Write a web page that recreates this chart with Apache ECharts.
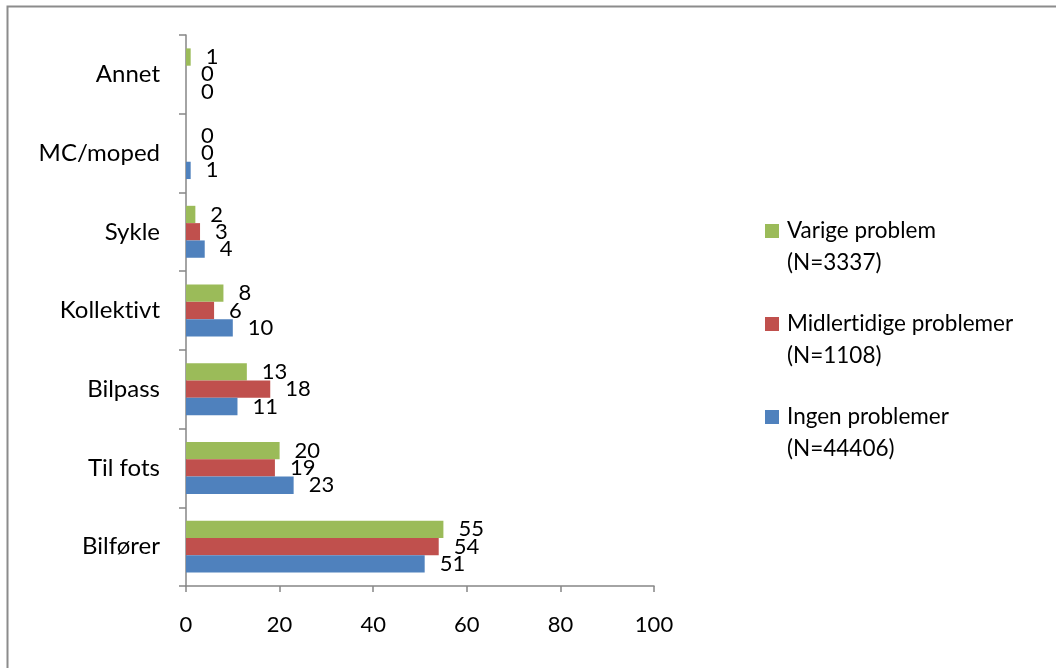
<!DOCTYPE html>
<html>
<head>
<meta charset="utf-8">
<script src="https://cdn.jsdelivr.net/npm/echarts@6/dist/echarts.min.js"></script>
<style>
  html, body { margin: 0; padding: 0; background: #ffffff; }
  #chart { width: 1056px; height: 668px; }
</style>
</head>
<body>
<div id="chart"></div>
<script>
// Travel mode shares (%) by problem group
const categories = ['Bilfører', 'Til fots', 'Bilpass', 'Kollektivt', 'Sykle', 'MC/moped', 'Annet'];
const ingenProblemer = [51, 23, 11, 10, 4, 1, 0];
const midlertidigeProblemer = [54, 19, 18, 6, 3, 0, 0];
const varigeProblem = [55, 20, 13, 8, 2, 0, 1];
const seriesNames = ['Ingen problemer\n(N=44406)', 'Midlertidige problemer\n(N=1108)', 'Varige problem\n(N=3337)'];
const seriesColors = ['#4F81BD', '#C0504D', '#9BBB59'];
const xTicks = [0, 20, 40, 60, 80, 100];

// Plain glyphs: no "ti" ligatures in canvas text
(function () {
  const proto = CanvasRenderingContext2D.prototype;
  const origFill = proto.fillText;
  proto.fillText = function () {
    try { this.textRendering = 'optimizeSpeed'; } catch (e) {}
    return origFill.apply(this, arguments);
  };
})();

const FONT = 'Lato, "Open Sans", sans-serif';

const chart = echarts.init(document.getElementById('chart'), null, { renderer: 'canvas' });

// Square icon sitting at the top of a taller box, so it lines up with the first text line
const legendIcon = 'path://M0,0L14,0L14,14L0,14ZM0,46';

function barSeries(name, values, color) {
  return {
    name: name,
    type: 'bar',
    data: values,
    barGap: '0%',
    barCategoryGap: '34%',
    itemStyle: { color: color },
    label: {
      show: true,
      position: 'right',
      distance: 15,
      color: '#000',
      fontFamily: FONT,
      fontSize: 22
    }
  };
}

chart.setOption({
  animation: false,
  backgroundColor: '#ffffff',
  graphic: [{
    type: 'rect',
    shape: { x: 7.5, y: 6.5, width: 1200, height: 800 },
    style: { fill: 'none', stroke: '#8c8c8c', lineWidth: 2 },
    silent: true
  }],
  grid: { left: 186, top: 35, right: 402, bottom: 82 },
  xAxis: {
    type: 'value',
    min: xTicks[0],
    max: xTicks[xTicks.length - 1],
    interval: xTicks[1] - xTicks[0],
    splitLine: { show: false },
    axisLine: { show: true, lineStyle: { color: '#868686', width: 1.5 } },
    axisTick: { show: true, length: 6, lineStyle: { color: '#868686', width: 1.5 } },
    axisLabel: { color: '#000', fontFamily: FONT, fontSize: 22, margin: 28 }
  },
  yAxis: {
    type: 'category',
    data: categories,
    axisLine: { show: true, lineStyle: { color: '#868686', width: 1.5 } },
    axisTick: { show: true, length: 7, lineStyle: { color: '#868686', width: 1.5 } },
    axisLabel: { color: '#000', fontFamily: FONT, fontSize: 24, margin: 26 }
  },
  legend: {
    orient: 'vertical',
    left: 765,
    top: 215,
    padding: 0,
    itemGap: 29,
    itemWidth: 14,
    itemHeight: 46,
    icon: legendIcon,
    data: [seriesNames[2], seriesNames[1], seriesNames[0]],
    textStyle: { color: '#000', fontFamily: FONT, fontSize: 22.5, lineHeight: 32, padding: [0, 0, 0, 3] }
  },
  // first series is drawn at the top of each category band
  series: [
    barSeries(seriesNames[2], varigeProblem, seriesColors[2]),
    barSeries(seriesNames[1], midlertidigeProblemer, seriesColors[1]),
    barSeries(seriesNames[0], ingenProblemer, seriesColors[0])
  ]
});
</script>
</body>
</html>
